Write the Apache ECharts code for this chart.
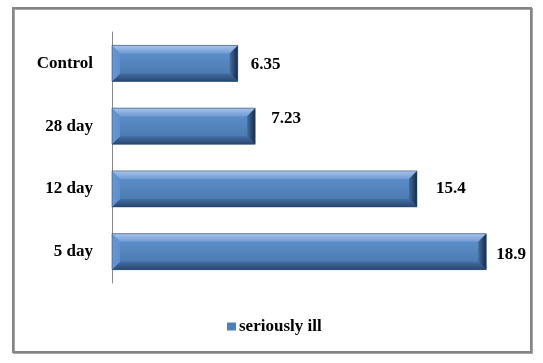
<!DOCTYPE html>
<html>
<head>
<meta charset="utf-8">
<script src="https://cdn.jsdelivr.net/npm/echarts@6/dist/echarts.min.js"></script>
<style>html,body{margin:0;padding:0;background:#fff;}#c{width:543px;height:363px;}</style>
</head>
<body>
<div id="c"></div>
<script>
var categories = ['5 day', '12 day', '28 day', 'Control'];
var values = [18.9, 15.4, 7.23, 6.35];
var seriesName = 'seriously ill';

var FONT = '"Liberation Serif","Times New Roman",serif';
// label placement tweaks (layout only): [dx from bar end, dy from bar centre]
var LABEL_SHIFT = [[10, 3], [19, 0], [16, -8], [13, 1.5]];

var chart = echarts.init(document.getElementById('c'), null, {renderer: 'canvas'});

function lg(x0, y0, x1, y1, c0, c1) {
  return new echarts.graphic.LinearGradient(x0, y0, x1, y1, [{offset: 0, color: c0}, {offset: 1, color: c1}]);
}

function renderItem(params, api) {
  var val = api.value(0);
  var cat = api.value(1);
  var start = api.coord([0, cat]);
  var end = api.coord([val, cat]);
  var bh = 36;
  var x0 = start[0], x1 = end[0];
  var y0 = start[1] - bh / 2, y1 = start[1] + bh / 2;
  var b = 8;
  var sh = LABEL_SHIFT[params.dataIndex];
  return {
    type: 'group',
    children: [
      {type: 'rect', shape: {x: x0, y: y0, width: x1 - x0, height: bh},
        style: {fill: lg(0, 0, 0, 1, '#6094d2', '#4775a8')}},
      {type: 'polygon', shape: {points: [[x0, y0], [x1, y0], [x1 - b, y0 + b], [x0 + b, y0 + b]]},
        style: {fill: lg(0, 0, 0, 1, '#a9c3e8', '#709cd6')}},
      {type: 'polygon', shape: {points: [[x0, y1], [x1, y1], [x1 - b, y1 - b], [x0 + b, y1 - b]]},
        style: {fill: lg(0, 0, 0, 1, '#426ea5', '#2a4770')}},
      {type: 'polygon', shape: {points: [[x0, y0], [x0 + b, y0 + b], [x0 + b, y1 - b], [x0, y1]]},
        style: {fill: lg(0, 0, 1, 0, '#6a96d0', '#5e8fcc')}},
      {type: 'polygon', shape: {points: [[x1, y0], [x1, y1], [x1 - b, y1 - b], [x1 - b, y0 + b]]},
        style: {fill: lg(0, 0, 1, 0, '#446c9f', '#172a44')}},
      {type: 'rect', shape: {x: x0, y: y0, width: x1 - x0, height: bh},
        style: {fill: 'none', stroke: '#2b4a72', lineWidth: 0.6}},
      {type: 'text', x: x1 + sh[0], y: start[1] + sh[1],
        style: {text: String(values[params.dataIndex]), fill: '#000', font: 'bold 17px ' + FONT,
          verticalAlign: 'middle', align: 'left'}}
    ]
  };
}

var option = {
  backgroundColor: '#fff',
  animation: false,
  graphic: [{
    type: 'rect', z: -1,
    shape: {x: 13, y: 8, width: 518, height: 344},
    style: {fill: '#fff', stroke: '#858585', lineWidth: 2,
      shadowColor: 'rgba(0,0,0,0.35)', shadowOffsetX: 1, shadowOffsetY: 1, shadowBlur: 0}
  }],
  grid: {left: 112, top: 32, width: 396, height: 251, containLabel: false},
  legend: {
    data: [seriesName], left: 222, top: 313,
    icon: 'rect', itemWidth: 9, itemHeight: 8, itemGap: 5,
    textStyle: {fontFamily: FONT, fontWeight: 'bold', fontSize: 17, color: '#000', padding: [0, 0, 0, -2]}
  },
  xAxis: {
    type: 'value', min: 0, max: 20,
    axisLine: {show: false}, axisTick: {show: false}, axisLabel: {show: false}, splitLine: {show: false}
  },
  yAxis: {
    type: 'category', data: categories,
    axisLine: {show: true, lineStyle: {color: '#8a8a8a', width: 1}},
    axisTick: {show: false},
    axisLabel: {margin: 19, fontFamily: FONT, fontWeight: 'bold', fontSize: 17, color: '#000'}
  },
  series: [{
    name: seriesName, type: 'custom',
    itemStyle: {color: '#4f7fbc'},
    encode: {x: 0, y: 1},
    data: values.map(function (v, i) { return [v, i]; }),
    renderItem: renderItem
  }]
};
chart.setOption(option);
</script>
</body>
</html>
